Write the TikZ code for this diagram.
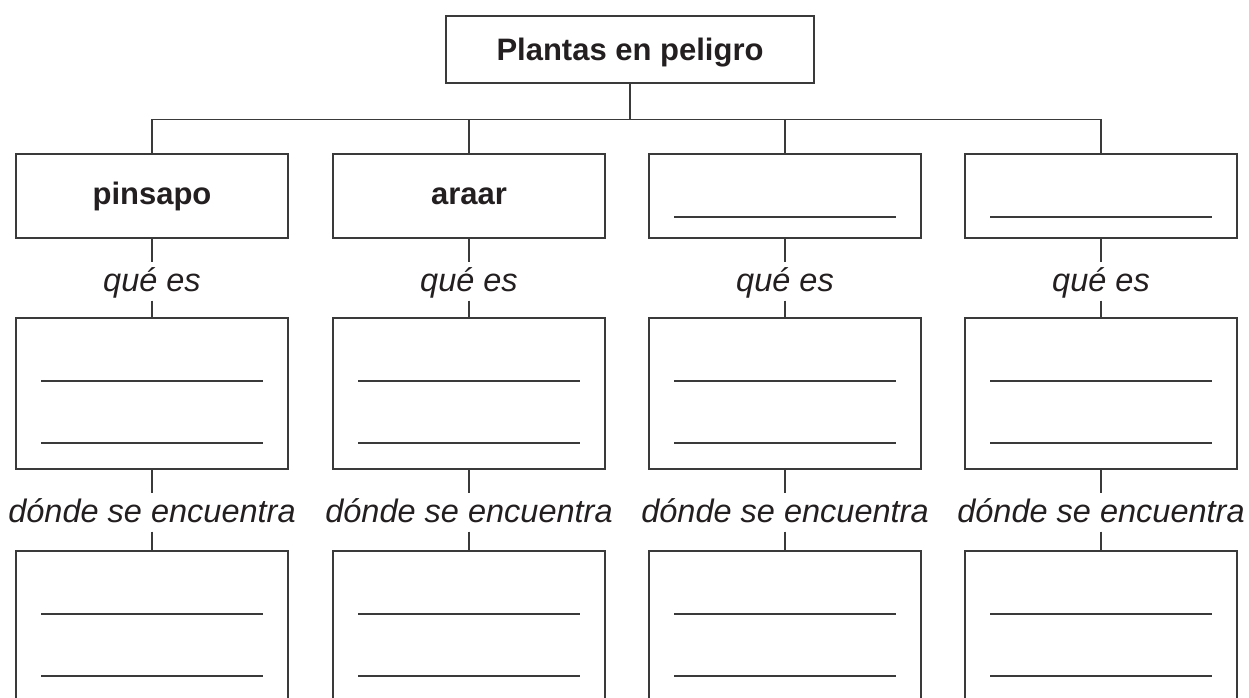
\documentclass[tikz,border=0pt]{standalone}
\usepackage{fontspec}
\setmainfont{Liberation Sans}
\definecolor{rule}{HTML}{3A3A3A}
\definecolor{ink}{HTML}{231F20}

\begin{document}
\begin{tikzpicture}[
        x=1pt, y=-1pt,
        color=rule,
        line width=1.2pt,
        topic/.style={draw,text=ink,font=\fontsize{31}{36}\selectfont\bfseries,
            minimum width=368pt,minimum height=67pt,text height=22pt,text depth=1pt},
        plant/.style={draw,text=ink,font=\fontsize{31}{36}\selectfont\bfseries,
            minimum width=272pt,minimum height=84pt,text height=22pt,text depth=6pt},
        blankplant/.style={plant,path picture={
            \draw ([shift={(25,63)}]path picture bounding box.north west)
                -- ([shift={(-25,63)}]path picture bounding box.north east);}},
        card/.style={draw,minimum width=272pt,minimum height=151pt,path picture={
            \draw ([shift={(25,63)}]path picture bounding box.north west)
                -- ([shift={(-25,63)}]path picture bounding box.north east);
            \draw ([shift={(25,125)}]path picture bounding box.north west)
                -- ([shift={(-25,125)}]path picture bounding box.north east);}},
        ask/.style={text=ink,font=\fontsize{32.5}{36}\selectfont\itshape,
            inner sep=0pt,text height=28pt,text depth=9pt,anchor=base}
    ]
        \clip (0,0) rectangle (1249,697);

        \node [topic] (plantas) at (630,49.5) {Plantas en peligro};

        \node [plant]      (pinsapo) at (152,196)  {pinsapo};
        \node [plant]      (araar)   at (469,196)  {araar};
        \node [blankplant] (planta3) at (785,196)  {};
        \node [blankplant] (planta4) at (1101,196) {};

        \coordinate (bar) at ([yshift=-36pt]plantas.south);
        \draw (plantas.south) -- (bar);
        \draw (pinsapo.north) -- (pinsapo.north |- bar) -- (planta4.north |- bar) -- (planta4.north);
        \draw (araar.north) -- (araar.north |- bar);
        \draw (planta3.north) -- (planta3.north |- bar);

        \node [ask]  (que1)   at (152,291)   {qué es};
        \node [card] (es1)    at (152,393.5) {};
        \node [ask]  (donde1) at (152,522)   {dónde se encuentra};
        \node [card] (lugar1) at (152,626.5) {};
        \draw (pinsapo) -- (que1) -- (es1) -- (donde1) -- (lugar1);

        \node [ask]  (que2)   at (469,291)   {qué es};
        \node [card] (es2)    at (469,393.5) {};
        \node [ask]  (donde2) at (469,522)   {dónde se encuentra};
        \node [card] (lugar2) at (469,626.5) {};
        \draw (araar) -- (que2) -- (es2) -- (donde2) -- (lugar2);

        \node [ask]  (que3)   at (785,291)   {qué es};
        \node [card] (es3)    at (785,393.5) {};
        \node [ask]  (donde3) at (785,522)   {dónde se encuentra};
        \node [card] (lugar3) at (785,626.5) {};
        \draw (planta3) -- (que3) -- (es3) -- (donde3) -- (lugar3);

        \node [ask]  (que4)   at (1101,291)   {qué es};
        \node [card] (es4)    at (1101,393.5) {};
        \node [ask]  (donde4) at (1101,522)   {dónde se encuentra};
        \node [card] (lugar4) at (1101,626.5) {};
        \draw (planta4) -- (que4) -- (es4) -- (donde4) -- (lugar4);
    \end{tikzpicture}
\end{document}
